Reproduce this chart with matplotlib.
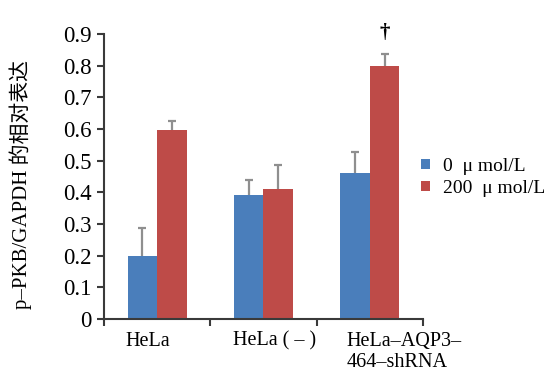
import numpy as np
import matplotlib
matplotlib.use('Agg')
import matplotlib.pyplot as plt

plt.rcParams['font.family'] = ['Liberation Serif', 'Noto Sans CJK SC']

# data
groups = ['HeLa', 'HeLa ( – )', 'HeLa–AQP3–\n464–shRNA']
ctrl = [0.20, 0.39, 0.46]
ctrl_err = [0.087, 0.05, 0.068]
treat = [0.595, 0.41, 0.80]
treat_err = [0.03, 0.077, 0.038]
series = ['0  μ mol/L', '200  μ mol/L']

blue = '#4A7EBB'
red = '#BE4B48'
errc = '#8f8f8f'

fig = plt.figure(figsize=(5.57, 3.81), dpi=100)
ax = fig.add_axes([0.187, 0.163, 0.572, 0.748])

x = np.arange(len(groups))
w = 0.28
ax.bar(x - w / 2, ctrl, w, color=blue, label=series[0])
ax.bar(x + w / 2, treat, w, color=red, label=series[1])

# upper error bars only
for xs, vals, errs in [(x - w / 2, ctrl, ctrl_err), (x + w / 2, treat, treat_err)]:
    tops = np.array(vals) + np.array(errs)
    ax.vlines(xs, vals, tops, color=errc, linewidth=1.6)
    ax.plot(xs, tops, linestyle='none', marker='_', markersize=6,
            markeredgewidth=1.6, color=errc)

# significance mark
ax.text(x[2] + w / 2, 0.872, '†', ha='center', va='bottom', fontsize=15,
        fontweight='bold')

ax.set_xlim(-0.5, 2.5)
ax.set_ylim(0, 0.9)
ax.set_yticks(np.arange(0, 0.91, 0.1))
ax.set_yticklabels(['0'] + ['%.1f' % v for v in np.arange(0.1, 0.91, 0.1)],
                   fontsize=16.5)
ax.set_xticks([-0.5, 0.5, 1.5, 2.5])
ax.set_xticklabels([])
label_shift = [-0.30, -0.29, -0.22]
for i, g in enumerate(groups):
    ax.text(i + label_shift[i], -0.04, g, ha='left', va='top', fontsize=14.5,
            linespacing=1.2)

for s in ['top', 'right']:
    ax.spines[s].set_visible(False)
for s in ['left', 'bottom']:
    ax.spines[s].set_color('#3a3a3a')
    ax.spines[s].set_linewidth(1.5)
ax.tick_params(axis='both', color='#3a3a3a', width=1.5, length=5)
ax.tick_params(axis='y', pad=4)

ax.set_ylabel('p–PKB/GAPDH 的相对表达', fontsize=15)
ax.yaxis.set_label_coords(-0.225, 0.47)

ax.legend(loc='center left', bbox_to_anchor=(0.995, 0.497), frameon=False,
          fontsize=14, handlelength=0.45, handleheight=0.45,
          handletextpad=0.65, labelspacing=0.25, borderaxespad=0,
          borderpad=0)

fig.savefig('out.png', dpi=100)
